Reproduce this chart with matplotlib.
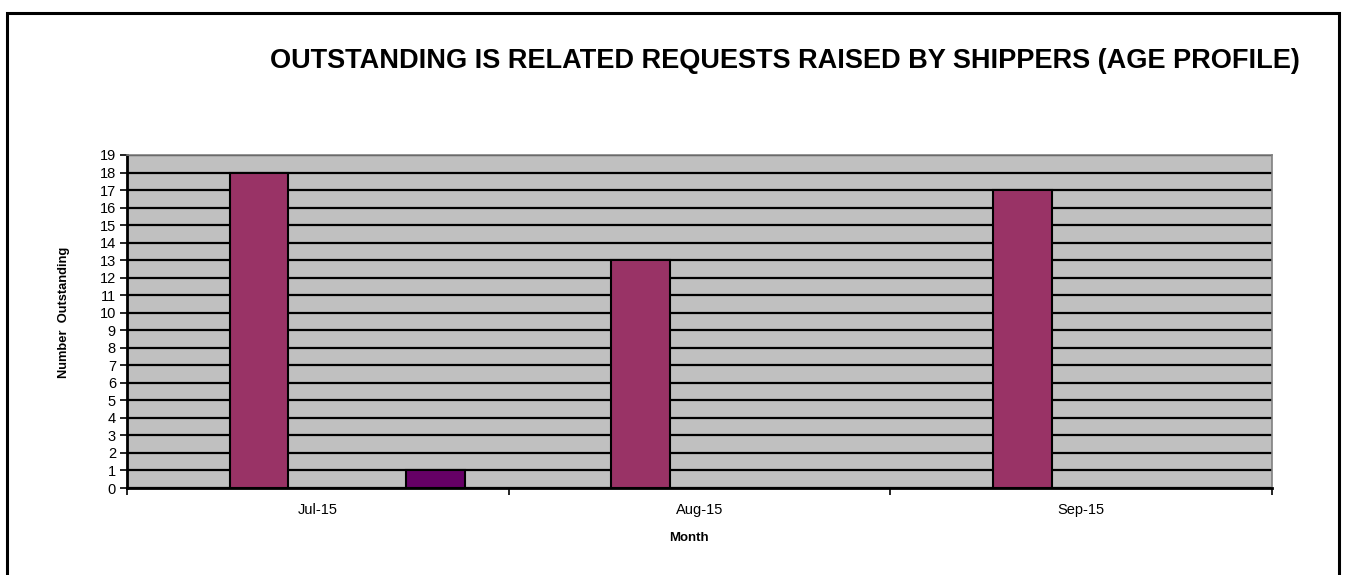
import matplotlib
matplotlib.use("Agg")
import numpy as np
import matplotlib.pyplot as plt
from matplotlib.patches import Rectangle

plt.rcParams["font.family"] = ["Liberation Sans", "DejaVu Sans"]

# Dados
months = ["Jul-15", "Aug-15", "Sep-15"]
# cinco faixas de idade (somente duas com valores)
band_0 = [0, 0, 0]
band_1 = [18, 13, 17]
band_2 = [0, 0, 0]
band_3 = [0, 0, 0]
band_4 = [1, 0, 0]
bands = [band_0, band_1, band_2, band_3, band_4]
band_colors = ["#9999FF", "#993366", "#FFFFCC", "#CCFFFF", "#660066"]
y_ticks = list(range(0, 20))

fig = plt.figure(figsize=(13.48, 5.75), dpi=100)
ax = fig.add_axes([127 / 1348, 1 - 488 / 575, 1145 / 1348, 333 / 575])

# moldura do grafico
fig.patches.append(Rectangle((7 / 1348, -0.05), 1332 / 1348, 1.05 - 13 / 575,
                             transform=fig.transFigure, fill=False,
                             edgecolor="black", lw=2.2))

ax.set_facecolor("#C0C0C0")
x = np.arange(len(months))
w = 1 / 6.5
for i, (vals, col) in enumerate(zip(bands, band_colors)):
    v = np.array(vals)
    keep = v > 0
    ax.bar(x[keep] + (i - 2) * w, v[keep], width=w, color=col,
           edgecolor="black", linewidth=1.5, zorder=3)

ax.set_xlim(-0.5, len(months) - 0.5)
ax.set_ylim(0, 19)
ax.set_yticks(y_ticks)
ax.yaxis.grid(True, color="black", lw=1.6, zorder=1)
ax.set_axisbelow(True)

ax.set_xticks(np.arange(-0.5, len(months)), minor=False)
ax.set_xticklabels([])
ax.set_xticks(x, minor=True)
ax.set_xticklabels(months, minor=True)
ax.tick_params(axis="x", which="minor", length=0, pad=11, labelsize=10.5)
ax.tick_params(axis="x", which="major", length=5, width=1.2, direction="out")
ax.tick_params(axis="y", length=5, width=1.2, labelsize=10.5, pad=3)

for s in ["left", "bottom"]:
    ax.spines[s].set_color("black")
    ax.spines[s].set_linewidth(2)
for s in ["top", "right"]:
    ax.spines[s].set_color("#808080")
    ax.spines[s].set_linewidth(1.2)

ax.set_xlabel("Month", fontsize=9.5, fontweight="bold")
ax.xaxis.set_label_coords(0.491, -0.132)
ax.set_ylabel("Number  Outstanding", fontsize=9.3, fontweight="bold")
ax.yaxis.set_label_coords(-0.05, 0.528)

fig.text(785 / 1348, 1 - 61 / 575,
         "OUTSTANDING IS RELATED REQUESTS RAISED BY SHIPPERS (AGE PROFILE)",
         ha="center", va="center", fontsize=19.5, fontweight="bold")

fig.savefig("out.png", dpi=100)
